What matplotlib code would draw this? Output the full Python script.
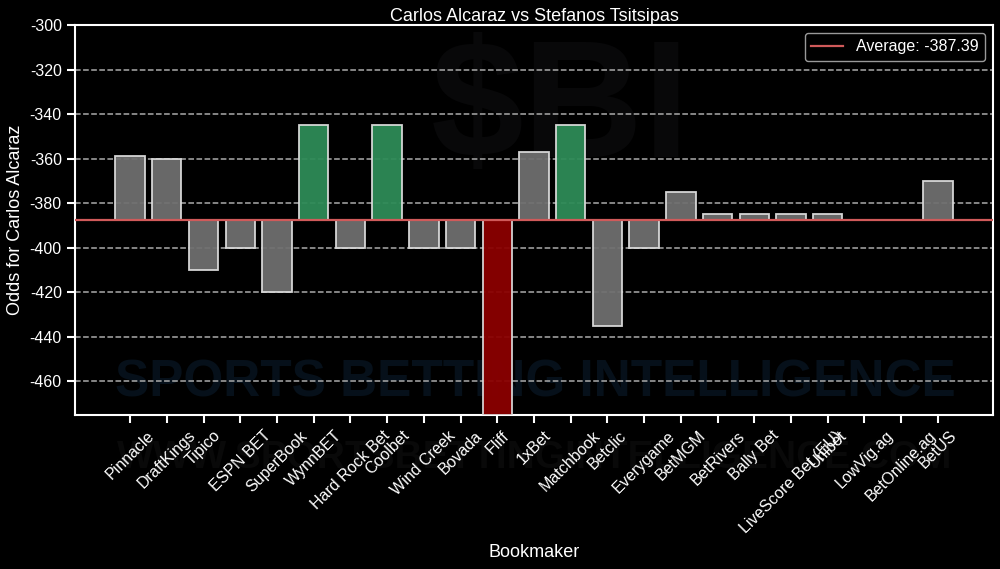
import numpy as np
import matplotlib.pyplot as plt

plt.rcParams["font.family"] = ["Liberation Sans", "DejaVu Sans"]
plt.rcParams["axes.unicode_minus"] = False

BOOKMAKERS = [
    "Pinnacle", "DraftKings", "Tipico", "ESPN BET", "SuperBook", "WynnBET",
    "Hard Rock Bet", "Coolbet", "Wind Creek", "Bovada", "Fliff", "1xBet",
    "Matchbook", "Betclic", "Everygame", "BetMGM", "BetRivers", "Bally Bet",
    "LiveScore Bet (EU)", "Unibet", "LowVig.ag", "BetOnline.ag", "BetUS",
]
ODDS = [
    -359, -360, -410, -400, -420, -345,
    -400, -345, -400, -400, -475, -357,
    -345, -435, -400, -375, -385, -385,
    -385, -385, np.nan, np.nan, -370,
]
AVERAGE = -387.39
PLAYER = "Carlos Alcaraz"
OPPONENT = "Stefanos Tsitsipas"

GRAY = "#6f6f6f"
GREEN = "#2e8b57"
RED = "#8b0000"
AVG_LINE = "#d05a5a"


def main():
    odds = np.array(ODDS, dtype=float)
    best = np.nanmax(odds)
    worst = np.nanmin(odds)
    colors = []
    for v in odds:
        if v == best:
            colors.append(GREEN)
        elif v == worst:
            colors.append(RED)
        else:
            colors.append(GRAY)

    fig = plt.figure(figsize=(10, 5.69), dpi=100, facecolor="black")
    ax = fig.add_axes([0.075, 0.271, 0.918, 0.685])
    ax.set_facecolor("none")

    # very faint watermark behind the plot
    wm = dict(transform=fig.transFigure, ha="center", va="center",
              fontweight="bold", zorder=0, clip_on=False)
    ax.text(0.56, 0.80, "$BI", fontsize=120, color="#080809", **wm)
    ax.text(0.535, 0.327, "SPORTS BETTING INTELLIGENCE", fontsize=37,
            color="#06101a", **wm)
    ax.text(0.535, 0.195, "WWW.SPORTSBETTINGINTELLIGENCE.COM", fontsize=28,
            color="#090909", **wm)

    x = np.arange(len(BOOKMAKERS))
    heights = odds - AVERAGE
    ax.bar(x, heights, bottom=AVERAGE, width=0.8, color=colors,
           edgecolor="#dddddd", linewidth=1.3, alpha=0.95, zorder=3)
    ax.axhline(AVERAGE, color=AVG_LINE, linewidth=1.6, zorder=4,
               label=f"Average: {AVERAGE:.2f}")

    ax.set_xlim(-1.5, len(BOOKMAKERS) + 0.5)
    ax.set_ylim(worst, -300)
    ax.set_yticks(np.arange(-460, -299, 20))
    ax.set_xticks(x)
    ax.set_xticklabels(BOOKMAKERS, rotation=45, ha="center", fontsize=11.5,
                       color="white")
    ax.tick_params(axis="y", labelsize=11.5, colors="white")
    ax.tick_params(axis="both", colors="white", length=6, width=1.5)

    ax.grid(axis="y", linestyle="--", color="#aaaaaa", linewidth=1.1, zorder=1)
    ax.set_axisbelow(True)
    for s in ax.spines.values():
        s.set_color("white")
        s.set_linewidth(1.5)

    ax.set_title(f"{PLAYER} vs {OPPONENT}", fontsize=13, color="white", pad=3)
    ax.set_xlabel("Bookmaker", fontsize=13, color="white", labelpad=6)
    ax.set_ylabel(f"Odds for {PLAYER}", fontsize=13, color="white")

    leg = ax.legend(loc="upper right", fontsize=11.5, facecolor="black",
                    edgecolor="#999999", framealpha=1, labelcolor="white")
    leg.get_frame().set_linewidth(1.0)

    fig.savefig("out.png", dpi=100, facecolor="black")
    plt.close(fig)


if __name__ == "__main__":
    main()
